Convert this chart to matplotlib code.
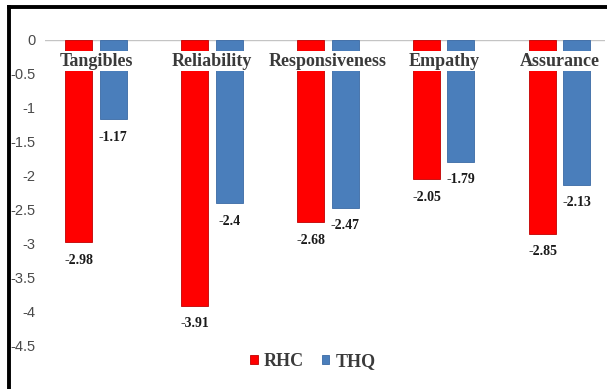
import numpy as np
import matplotlib
matplotlib.use("Agg")
import matplotlib.pyplot as plt
from matplotlib.lines import Line2D

# -------------------------------
# Dados
# -------------------------------
categories = ["Tangibles", "Reliability", "Responsiveness", "Empathy", "Assurance"]
rhc_values = [-2.98, -3.91, -2.68, -2.05, -2.85]
thq_values = [-1.17, -2.4, -2.47, -1.79, -2.13]
series_names = ["RHC", "THQ"]
y_ticks = [0, -0.5, -1, -1.5, -2, -2.5, -3, -3.5, -4, -4.5]

RED = "#ff0000"
BLUE = "#4a7ebb"
SERIF = "Liberation Serif"

# -------------------------------
# Figura
# -------------------------------
fig = plt.figure(figsize=(6.07, 3.89), dpi=100)
ax = fig.add_axes([0.0741, 0.1113, 0.9226, 0.7859])

x = np.arange(len(categories))
width = 0.233
offset = 0.148

bars_rhc = ax.bar(x - offset, rhc_values, width, color=RED,
                  edgecolor="#c00000", linewidth=0.6, label=series_names[0], zorder=2)
bars_thq = ax.bar(x + offset, thq_values, width, color=BLUE,
                  edgecolor="#3a6aa5", linewidth=0.6, label=series_names[1], zorder=2)

ax.set_xlim(-0.44, 4.39)
ax.set_ylim(-4.5, 0)

# linha do zero
ax.axhline(0, color="#c4c4c4", linewidth=1.0, zorder=1)

# eixos limpos
for side in ["top", "right", "bottom", "left"]:
    ax.spines[side].set_visible(False)
ax.set_xticks([])
ax.set_yticks(y_ticks)
ax.set_yticklabels([f"{v:g}" for v in y_ticks], fontsize=10.5,
                   color="#4a4a4a", family="Liberation Sans")
ax.tick_params(axis="y", length=0, pad=7)

# nomes das categorias por cima das barras, com fundo branco
for xi, name in zip(x, categories):
    ax.text(xi, -0.31, name, ha="center", va="center", fontsize=13,
            fontweight="bold", family=SERIF, color="#3a3a3a", zorder=4,
            bbox=dict(facecolor="white", edgecolor="none", pad=1.2))

# rótulos de valor abaixo de cada barra
for bars, vals in [(bars_rhc, rhc_values), (bars_thq, thq_values)]:
    for b, v in zip(bars, vals):
        ax.annotate(f"{v:g}", (b.get_x() + b.get_width() / 2, v),
                    xytext=(0, -13), textcoords="offset points",
                    ha="center", va="center", fontsize=10,
                    fontweight="bold", family=SERIF, color="#1a1a1a")

# legenda
fig.legend(handles=[bars_rhc, bars_thq], labels=series_names,
           loc="center", bbox_to_anchor=(313 / 607, 0.07), ncol=2,
           frameon=False, handlelength=0.4, handleheight=0.4,
           handletextpad=0.35, columnspacing=1.0,
           prop=dict(family=SERIF, weight="bold", size=13),
           labelcolor="#3a3a3a")

# moldura preta (topo e esquerda)
fig.add_artist(Line2D([9 / 607, 1.0], [1 - 7 / 389, 1 - 7 / 389],
                      color="black", linewidth=2.8, transform=fig.transFigure))
fig.add_artist(Line2D([9 / 607, 9 / 607], [0, 1 - 7 / 389],
                      color="black", linewidth=2.8, transform=fig.transFigure))

fig.savefig("out.png", dpi=100)
